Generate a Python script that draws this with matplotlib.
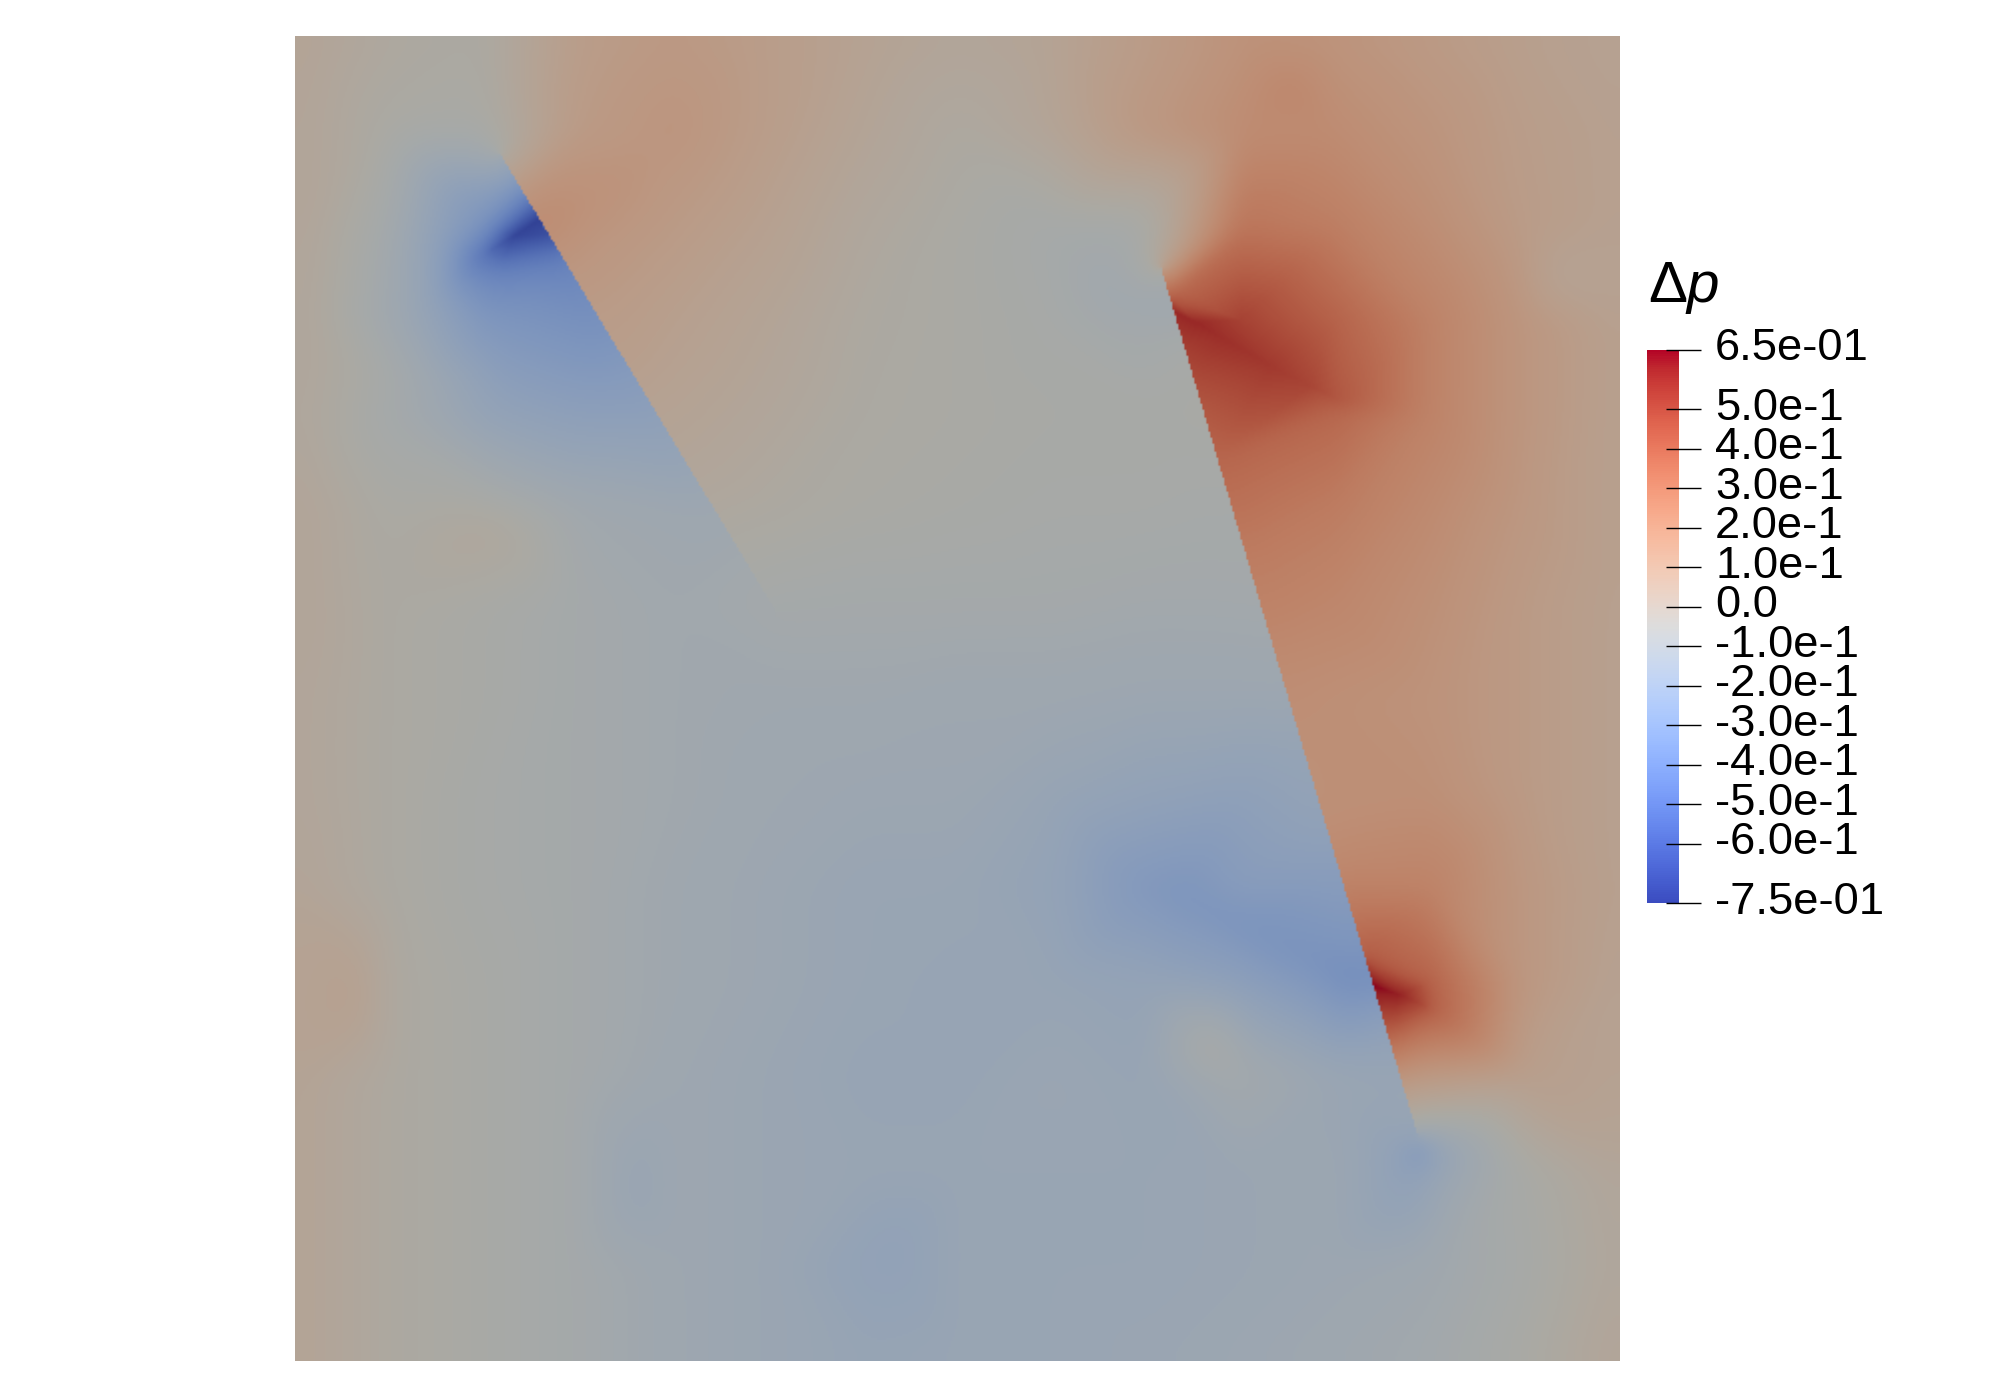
import numpy as np
import matplotlib

matplotlib.use("Agg")
import matplotlib.pyplot as plt
from matplotlib.colors import ListedColormap, Normalize
from matplotlib.cm import ScalarMappable
from matplotlib.tri import Triangulation, LinearTriInterpolator

plt.rcParams["font.family"] = ["Liberation Sans", "DejaVu Sans"]
plt.rcParams["mathtext.fontset"] = "custom"
plt.rcParams["mathtext.rm"] = "Liberation Sans"
plt.rcParams["mathtext.it"] = "Liberation Sans:italic"

W, H = 1994, 1382
VMIN, VMAX = -0.75, 0.65
SIDE = 1042

# delta p, on a regular grid over the square (rows from the top)
grid_n = 15
grid = [
    [0.03, -0.02, -0.04, 0.08, 0.11, 0.08, 0.04, 0.01, 0.03, 0.09, 0.15, 0.14, 0.10, 0.06, 0.04],
    [0.02, -0.05, -0.06, 0.10, 0.14, 0.08, 0.02, -0.03, 0.02, 0.12, 0.19, 0.19, 0.14, 0.08, 0.05],
    [0.02, -0.09, -0.30, 0.13, 0.10, 0.05, -0.01, -0.05, -0.08, -0.08, 0.30, 0.26, 0.18, 0.09, 0.05],
    [0.01, -0.12, -0.30, -0.27, 0.06, 0.02, -0.03, -0.05, -0.07, -0.07, 0.50, 0.38, 0.24, 0.13, 0.05],
    [0.00, -0.09, -0.19, -0.23, 0.04, 0.00, -0.04, -0.05, -0.06, -0.06, 0.42, 0.36, 0.24, 0.13, 0.05],
    [0.02, -0.05, -0.05, -0.11, -0.15, -0.03, -0.05, -0.06, -0.07, -0.07, 0.30, 0.27, 0.20, 0.12, 0.05],
    [0.02, -0.04, -0.06, -0.09, -0.11, -0.09, -0.09, -0.09, -0.09, -0.10, -0.10, 0.22, 0.17, 0.10, 0.05],
    [0.01, -0.04, -0.06, -0.09, -0.11, -0.12, -0.12, -0.13, -0.13, -0.14, -0.14, 0.17, 0.15, 0.10, 0.05],
    [0.01, -0.04, -0.07, -0.09, -0.11, -0.13, -0.14, -0.14, -0.17, -0.20, -0.22, 0.17, 0.17, 0.10, 0.05],
    [0.02, -0.04, -0.07, -0.09, -0.12, -0.14, -0.16, -0.16, -0.19, -0.29, -0.26, -0.22, 0.24, 0.12, 0.05],
    [0.03, -0.03, -0.06, -0.09, -0.12, -0.14, -0.16, -0.17, -0.17, -0.19, -0.23, -0.30, 0.38, 0.12, 0.04],
    [0.03, -0.03, -0.06, -0.09, -0.13, -0.15, -0.17, -0.17, -0.15, -0.17, -0.09, -0.15, 0.05, 0.07, 0.04],
    [0.03, -0.03, -0.06, -0.09, -0.13, -0.15, -0.16, -0.16, -0.16, -0.16, -0.15, -0.14, -0.17, -0.06, 0.01],
    [0.03, -0.03, -0.06, -0.09, -0.13, -0.15, -0.20, -0.16, -0.16, -0.16, -0.15, -0.14, -0.12, -0.07, 0.00],
    [0.03, -0.03, -0.06, -0.09, -0.13, -0.15, -0.17, -0.16, -0.16, -0.15, -0.14, -0.12, -0.10, -0.05, 0.02],
]

# first (upper left) crack, in units of the square (1042 wide, y down)
crack1_start = (161, 92)
crack1_end = (378, 452)
crack1_y = [112, 132, 144, 156, 170, 182, 215, 250, 292, 340, 380, 420]
crack1_left = [-0.25, -0.50, -0.72, -0.66, -0.50, -0.42, -0.36, -0.30, -0.24, -0.18, -0.13, -0.10]
crack1_right = [0.08, 0.17, 0.20, 0.18, 0.16, 0.13, 0.10, 0.08, 0.04, 0.01, -0.03, -0.06]
crack1_tips = [-0.06, -0.09]

# second (long) crack
crack2_start = (681, 182)
crack2_end = (883, 865)
crack2_y = [202, 217, 242, 270, 292, 332, 372, 412, 452, 492, 532, 572, 612, 650, 690, 722, 747, 762, 792, 832]
crack2_left = [-0.12, -0.14, -0.08, -0.07, -0.06, -0.07, -0.08, -0.09, -0.10, -0.12, -0.15, -0.18, -0.20, -0.24, -0.28, -0.32, -0.36, -0.28, -0.20, -0.16]
crack2_right = [0.35, 0.58, 0.52, 0.47, 0.43, 0.37, 0.32, 0.27, 0.24, 0.20, 0.18, 0.17, 0.17, 0.21, 0.30, 0.40, 0.65, 0.55, 0.33, 0.05]
crack2_tips = [-0.02, -0.13]

# ridges and small blobs away from the cracks: x, y, delta p
extra_x = [708, 728, 768, 798, 823, 868, 883, 898,
           648, 698, 748, 798, 828,
           173, 148, 158, 118, 138, 108, 68, 88, 168, 238, 288,
           153, 50, 783, 988, 728, 883, 863, 908, 883, 473, 268, 638]
extra_y = [225, 237, 260, 275, 287, 754, 760, 767,
           652, 677, 702, 727, 740,
           157, 172, 187, 162, 132, 212, 172, 272, 272, 122, 87,
           387, 754, 42, 192, 797, 871, 887, 877, 897, 954, 907, 197]
extra_v = [0.58, 0.56, 0.53, 0.49, 0.42, 0.60, 0.50, 0.38,
           -0.26, -0.31, -0.32, -0.33, -0.36,
           -0.70, -0.50, -0.42, -0.24, -0.28, -0.20, -0.09, -0.09, -0.24, 0.16, 0.13,
           0.00, 0.06, 0.22, 0.03, -0.03, -0.38, -0.20, -0.18, -0.22, -0.21, -0.17, -0.12]

# colorbar ticks
tick_values = [0.65, 0.5, 0.4, 0.3, 0.2, 0.1, 0.0, -0.1, -0.2, -0.3, -0.4, -0.5, -0.6, -0.75]
tick_labels = ["6.5e-01", "5.0e-1", "4.0e-1", "3.0e-1", "2.0e-1", "1.0e-1", "0.0",
               "-1.0e-1", "-2.0e-1", "-3.0e-1", "-4.0e-1", "-5.0e-1", "-6.0e-1", "-7.5e-01"]


def crack_nodes(start, end, y, left, right, tips, eps=0.4):
    y = np.array(y, dtype=float)
    x = np.interp(y, [start[1], end[1]], [start[0], end[0]])
    d = np.array([end[0] - start[0], end[1] - start[1]], dtype=float)
    d /= np.hypot(*d)
    nx, ny = -d[1], d[0]
    xs = np.concatenate([x + eps * nx, x - eps * nx, [start[0], end[0]]])
    ys = np.concatenate([y + eps * ny, y - eps * ny, [start[1], end[1]]])
    vs = np.concatenate([left, right, tips])
    return xs, ys, vs


def crack_coords(X, Y, start, end):
    # along the crack (0..1) and signed distance from it
    d = np.array([end[0] - start[0], end[1] - start[1]], dtype=float)
    length = np.hypot(*d)
    d /= length
    t = ((X - start[0]) * d[0] + (Y - start[1]) * d[1]) / length
    s = (X - start[0]) * d[1] - (Y - start[1]) * d[0]
    return t, s


def smooth(F, X, Y, cracks, steps=200):
    # diffusion that does not pass through the cracks, weak on the strong peaks
    cut_x = np.zeros((F.shape[0], F.shape[1] - 1), dtype=bool)
    cut_y = np.zeros((F.shape[0] - 1, F.shape[1]), dtype=bool)
    for start, end in cracks:
        t, s = crack_coords(X, Y, start, end)
        on = (t >= 0) & (t <= 1)
        cut_x |= (s[:, 1:] * s[:, :-1] <= 0) & (on[:, 1:] | on[:, :-1])
        cut_y |= (s[1:, :] * s[:-1, :] <= 0) & (on[1:, :] | on[:-1, :])
    rate = 0.24 * (1 - np.clip(np.abs(F + 0.05) / 0.5, 0, 1))
    for _ in range(steps):
        fx = (F[:, 1:] - F[:, :-1]) * ~cut_x
        fy = (F[1:, :] - F[:-1, :]) * ~cut_y
        change = np.zeros_like(F)
        change[:, :-1] += fx
        change[:, 1:] -= fx
        change[:-1, :] += fy
        change[1:, :] -= fy
        F = F + rate * change
    return F


def main():
    gx, gy = np.meshgrid(np.linspace(0, SIDE, grid_n), np.linspace(0, SIDE, grid_n))
    gv = np.array(grid)
    cracks = [(crack1_start, crack1_end), (crack2_start, crack2_end)]

    # grid nodes right next to a crack would tear its edge
    keep = np.ones(gx.shape, dtype=bool)
    for start, end in cracks:
        t, s = crack_coords(gx, gy, start, end)
        keep &= ~((t > -0.02) & (t < 1.02) & (np.abs(s) < 30))

    c1 = crack_nodes(crack1_start, crack1_end, crack1_y, crack1_left, crack1_right, crack1_tips)
    c2 = crack_nodes(crack2_start, crack2_end, crack2_y, crack2_left, crack2_right, crack2_tips)

    x = np.concatenate([gx[keep], c1[0], c2[0], extra_x])
    y = np.concatenate([gy[keep], c1[1], c2[1], extra_y])
    v = np.concatenate([gv[keep], c1[2], c2[2], extra_v])

    fine = (np.arange(663) + 0.5) * SIDE / 663
    X, Y = np.meshgrid(fine, fine)
    F = LinearTriInterpolator(Triangulation(x, y), v)(X, Y)
    F = np.ma.filled(F, 0.0)
    F = smooth(F, X, Y, cracks)

    # the surface is shaded a bit darker than the color bar
    dim = plt.get_cmap("coolwarm")(np.linspace(0, 1, 256))
    dim[:, :2] *= 0.77
    dim[:, 2] *= 0.745
    field_cmap = ListedColormap(dim)
    norm = Normalize(VMIN, VMAX)

    fig = plt.figure(figsize=(W / 100, H / 100), dpi=100, facecolor="white")
    ax = fig.add_axes([295 / W, 1 - 1361 / H, 1325 / W, 1325 / H])
    ax.imshow(F, extent=(0, SIDE, SIDE, 0), cmap=field_cmap, norm=norm, interpolation="bilinear", aspect="auto")
    ax.set_xlim(0, SIDE)
    ax.set_ylim(SIDE, 0)
    ax.axis("off")

    cax = fig.add_axes([1647 / W, 1 - 903 / H, 32 / W, 553 / H])
    cb = fig.colorbar(ScalarMappable(norm=norm, cmap="coolwarm"), cax=cax)
    cb.outline.set_visible(False)
    cb.set_ticks([])
    trans = cax.get_yaxis_transform()
    cax.hlines(tick_values, 0.6, 1.7, colors="black", linewidth=1.0, transform=trans, clip_on=False)
    for val, lab in zip(tick_values, tick_labels):
        cax.annotate(lab, (1.0, val), xycoords=trans, xytext=(36, 1), textcoords="offset pixels",
                     ha="left", va="center", fontsize=32.7, color="black")
    fig.text(1648 / W, 1 - 302 / H, r"$\Delta p$", fontsize=42, color="black", ha="left", va="baseline")

    fig.savefig("out.png", dpi=100)


if __name__ == "__main__":
    main()
